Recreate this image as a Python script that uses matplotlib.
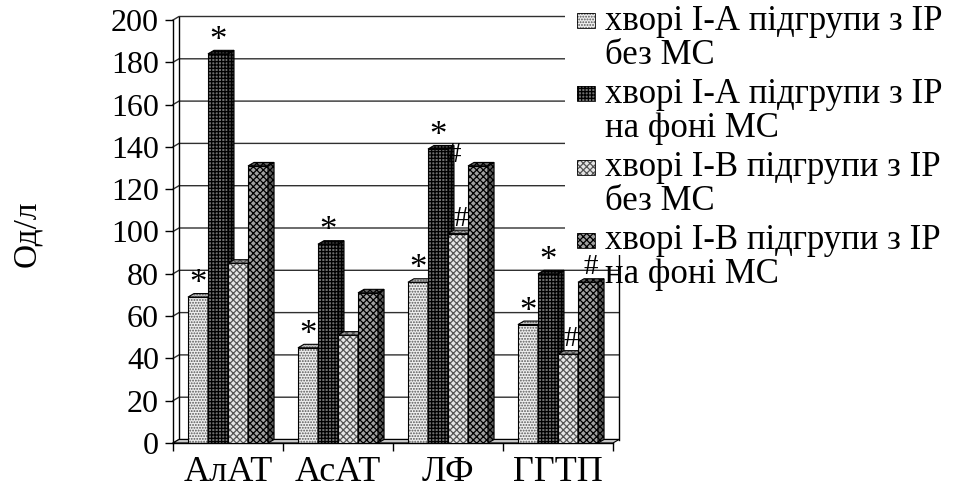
import numpy as np
import matplotlib.pyplot as plt
from matplotlib.patches import Polygon, Rectangle

plt.rcParams['font.family'] = ['Liberation Serif', 'DejaVu Serif']
plt.rcParams['hatch.linewidth'] = 0.9

# data
categories = ['АлАТ', 'АсАТ', 'ЛФ', 'ГГТП']
labels = ['хворі І-А підгрупи з ІР\nбез МС',
          'хворі І-А підгрупи з ІР\nна фоні МС',
          'хворі І-В підгрупи з ІР\nбез МС',
          'хворі І-В підгрупи з ІР\nна фоні МС']
ia_no_ms = [69, 45, 76, 56]
ia_ms = [184, 94, 139, 80]
ib_no_ms = [85, 51, 99, 42]
ib_ms = [131, 71, 131, 76]
values = [ia_no_ms, ia_ms, ib_no_ms, ib_ms]

# significance marks above bars, and the one drawn beside a bar top
marks = [['*', '*', '*', '*'],
         ['*', '*', '*', '*'],
         ['', '', '#', '#'],
         ['', '', '', '#']]
side_marks = [['', '', '', ''],
              ['', '', '#', ''],
              ['', '', '', ''],
              ['', '', '', '']]

# face, hatch, hatch colour, side face
styles = [('#eeeeee', '......', '#555555', '#c0c0c0'),
          ('#707070', '+++++', '#000000', '#454545'),
          ('#e6e6e6', 'xxxxx', '#555555', '#a0a0a0'),
          ('#a0a0a0', 'xxxxx', '#000000', '#606060')]

W, H = 972, 494
fig = plt.figure(figsize=(W / 100, H / 100), dpi=100)
ax = fig.add_axes([173 / W, 1 - 443 / H, 440 / W, 423 / H])
ax.set_xlim(-0.5, 3.5)
ax.set_ylim(0, 200)

dx = 6 * 4.0 / 440      # depth of the 3d effect, data units
dy = 3.5 * 200 / 423
w = 0.182

# back wall and grid
for v in range(0, 201, 20):
    ax.plot([-0.5, -0.5 + dx, 3.5 + dx], [v, v + dy, v + dy],
            color='#303030', lw=1, clip_on=False, zorder=0.5)
ax.plot([-0.5 + dx] * 2, [dy, 200 + dy], color='black', lw=1, clip_on=False, zorder=0.5)
ax.plot([3.5 + dx] * 2, [dy, 200 + dy], color='black', lw=1, clip_on=False, zorder=0.5)
ax.add_patch(Polygon([(-0.5, 0), (3.5, 0), (3.5 + dx, dy), (-0.5 + dx, dy)],
                     closed=True, facecolor='#c8c8c8', edgecolor='black', lw=0.8,
                     clip_on=False, zorder=0.6))

xc = np.arange(len(categories))
for i, vals in enumerate(values):
    face, hatch, hcol, side = styles[i]
    x = xc + (i - 1.5) * w
    z = 2 + i
    ax.bar(x, vals, w, color=face, hatch=hatch, edgecolor=hcol, lw=0, zorder=z)
    ax.bar(x, vals, w, fill=False, edgecolor='black', lw=0.8, zorder=z + 0.05)
    for xi, v in zip(x, vals):
        x0, x1 = xi - w / 2, xi + w / 2
        right = [(x1, 0), (x1 + dx, dy), (x1 + dx, v + dy), (x1, v)]
        top = [(x0, v), (x0 + dx, v + dy), (x1 + dx, v + dy), (x1, v)]
        for poly in (right, top):
            ax.add_patch(Polygon(poly, closed=True, facecolor=side, hatch=hatch,
                                 edgecolor=hcol, lw=0, clip_on=False, zorder=z + 0.1))
            ax.add_patch(Polygon(poly, closed=True, fill=False, edgecolor='black',
                                 lw=0.8, clip_on=False, zorder=z + 0.15))
    for j, (xi, v) in enumerate(zip(x, vals)):
        m = marks[i][j]
        if m == '*':
            ax.text(xi, v - 2, m, ha='center', va='bottom', fontsize=25, zorder=10)
        elif m == '#':
            ax.text(xi + dx / 2, v + 1, m, ha='center', va='bottom', fontsize=21, zorder=10)
        if side_marks[i][j]:
            ax.text(xi + w / 2 + dx, v - 3, side_marks[i][j], ha='center', va='center',
                    fontsize=21, zorder=10)

# axes
for s in ['top', 'right']:
    ax.spines[s].set_visible(False)
ax.spines['left'].set_linewidth(1)
ax.spines['bottom'].set_linewidth(1)
ax.set_yticks(range(0, 201, 20))
ax.tick_params(axis='y', direction='out', length=6, width=1, pad=4, labelsize=23)
ax.set_xticks(xc)
ax.set_xticklabels(categories, fontsize=26)
ax.set_xticks(np.arange(-0.5, 3.6, 1), minor=True)
ax.tick_params(axis='x', which='major', length=0, pad=9)
ax.tick_params(axis='x', which='minor', direction='out', length=6, width=1)

fig.text(27 / W, 1 - 234 / H, 'Од/л', rotation=90, fontsize=24, ha='center', va='center')

# legend, drawn over the right part of the plot
fig.add_artist(Rectangle((565 / W, 1 - 255 / H), (W - 565) / W, 255 / H,
                         transform=fig.transFigure, facecolor='white',
                         edgecolor='none', zorder=3))
for i, lab in enumerate(labels):
    face, hatch, hcol, side = styles[i]
    yc = 21 + 73 * i
    fig.add_artist(Rectangle((577 / W, 1 - (yc + 7.5) / H), 18 / W, 15 / H,
                             transform=fig.transFigure, facecolor=face, hatch=hatch,
                             edgecolor=hcol, lw=0, zorder=4))
    fig.add_artist(Rectangle((577 / W, 1 - (yc + 7.5) / H), 18 / W, 15 / H,
                             transform=fig.transFigure, fill=False,
                             edgecolor='black', lw=0.6, zorder=4.1))
    fig.text(605 / W, 1 - (yc - 16) / H, lab, ha='left', va='top', fontsize=25,
             linespacing=1.05, zorder=5)

fig.savefig('out.png', dpi=100)
